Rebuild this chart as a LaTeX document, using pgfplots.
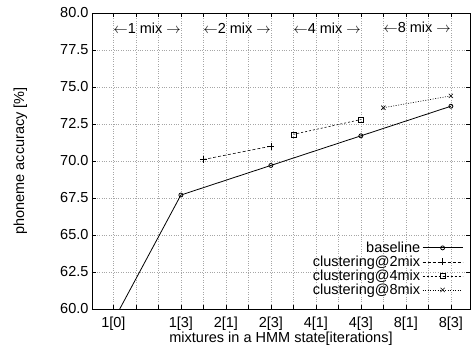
\documentclass[border=0pt]{standalone}
\usepackage{fontspec}
\setmainfont{Liberation Sans}
\usepackage{pgfplots}
\pgfplotsset{compat=1.18}
\begin{document}
\begin{tikzpicture}[font=\fontsize{14.5}{17}\selectfont]
\begin{axis}[
 scale only axis, width=378pt, height=296pt,
 xmin=-0.95, xmax=15.85, ymin=60, ymax=80,
 xtick={0,...,15},
 xticklabels={{1[0]},,,{1[3]},,{2[1]},,{2[3]},,{4[1]},,{4[3]},,{8[1]},,{8[3]}},
 x tick label style={yshift=-4pt},
 ytick={60,62.5,...,80},
 y tick label style={/pgf/number format/fixed, /pgf/number format/fixed zerofill, /pgf/number format/precision=1},
 /pgf/number format/assume math mode=true,
 grid=major, major grid style={gray!70, dotted, line width=0.5pt},
 axis line style={line width=0.8pt},
 major tick length=4pt,
 tick style={black, line width=0.5pt},
 xlabel={mixtures in a HMM state[iterations]},
 xlabel style={at={(rel axis cs:0.5,0)}, anchor=north, yshift=-19pt},
 ylabel={phoneme accuracy [\%]},
 ylabel style={at={(rel axis cs:-0.162,0.5)}, anchor=south},
 legend style={draw=none, fill=none, at={(rel axis cs:0.99,0.03)}, anchor=south east, cells={anchor=east}, row sep=-2pt},
 legend plot pos=right,
 legend image code/.code={\draw[mark repeat=2,mark phase=2] plot coordinates {(0pt,0pt) (20pt,0pt) (40pt,0pt)};},
]
\addplot[black, line width=0.8pt, mark=o, mark size=2pt, mark options={solid}] coordinates {(0,59.2) (3,67.7) (7,69.7) (11,71.7) (15,73.7)};
\addlegendentry{baseline}
\addplot[black, line width=0.6pt, dash pattern=on 3pt off 2pt, mark=+, mark size=3.5pt, mark options={solid}] coordinates {(4,70.1) (7,71.0)};
\addlegendentry{clustering@2mix}
\addplot[black, line width=0.6pt, dash pattern=on 2pt off 2pt, mark=square, mark size=2.5pt, mark options={solid}] coordinates {(8,71.8) (11,72.8)};
\addlegendentry{clustering@4mix}
\addplot[black, line width=0.6pt, dash pattern=on 1pt off 1.5pt, mark=x, mark size=3pt, mark options={solid}] coordinates {(12,73.6) (15,74.4)};
\addlegendentry{clustering@8mix}
\node at (axis cs:1.5,79.0) {$\leftarrow$1 mix $\rightarrow$};
\node at (axis cs:5.5,79.0) {$\leftarrow$2 mix $\rightarrow$};
\node at (axis cs:9.5,79.0) {$\leftarrow$4 mix $\rightarrow$};
\node at (axis cs:13.5,79.0) {$\leftarrow$8 mix $\rightarrow$};
\coordinate (ll) at (rel axis cs:0,0);
\end{axis}
\pgfresetboundingbox
\path[use as bounding box] ([shift={(-92pt,-39pt)}]ll) rectangle ++(476pt,348pt);
\end{tikzpicture}
\end{document}
